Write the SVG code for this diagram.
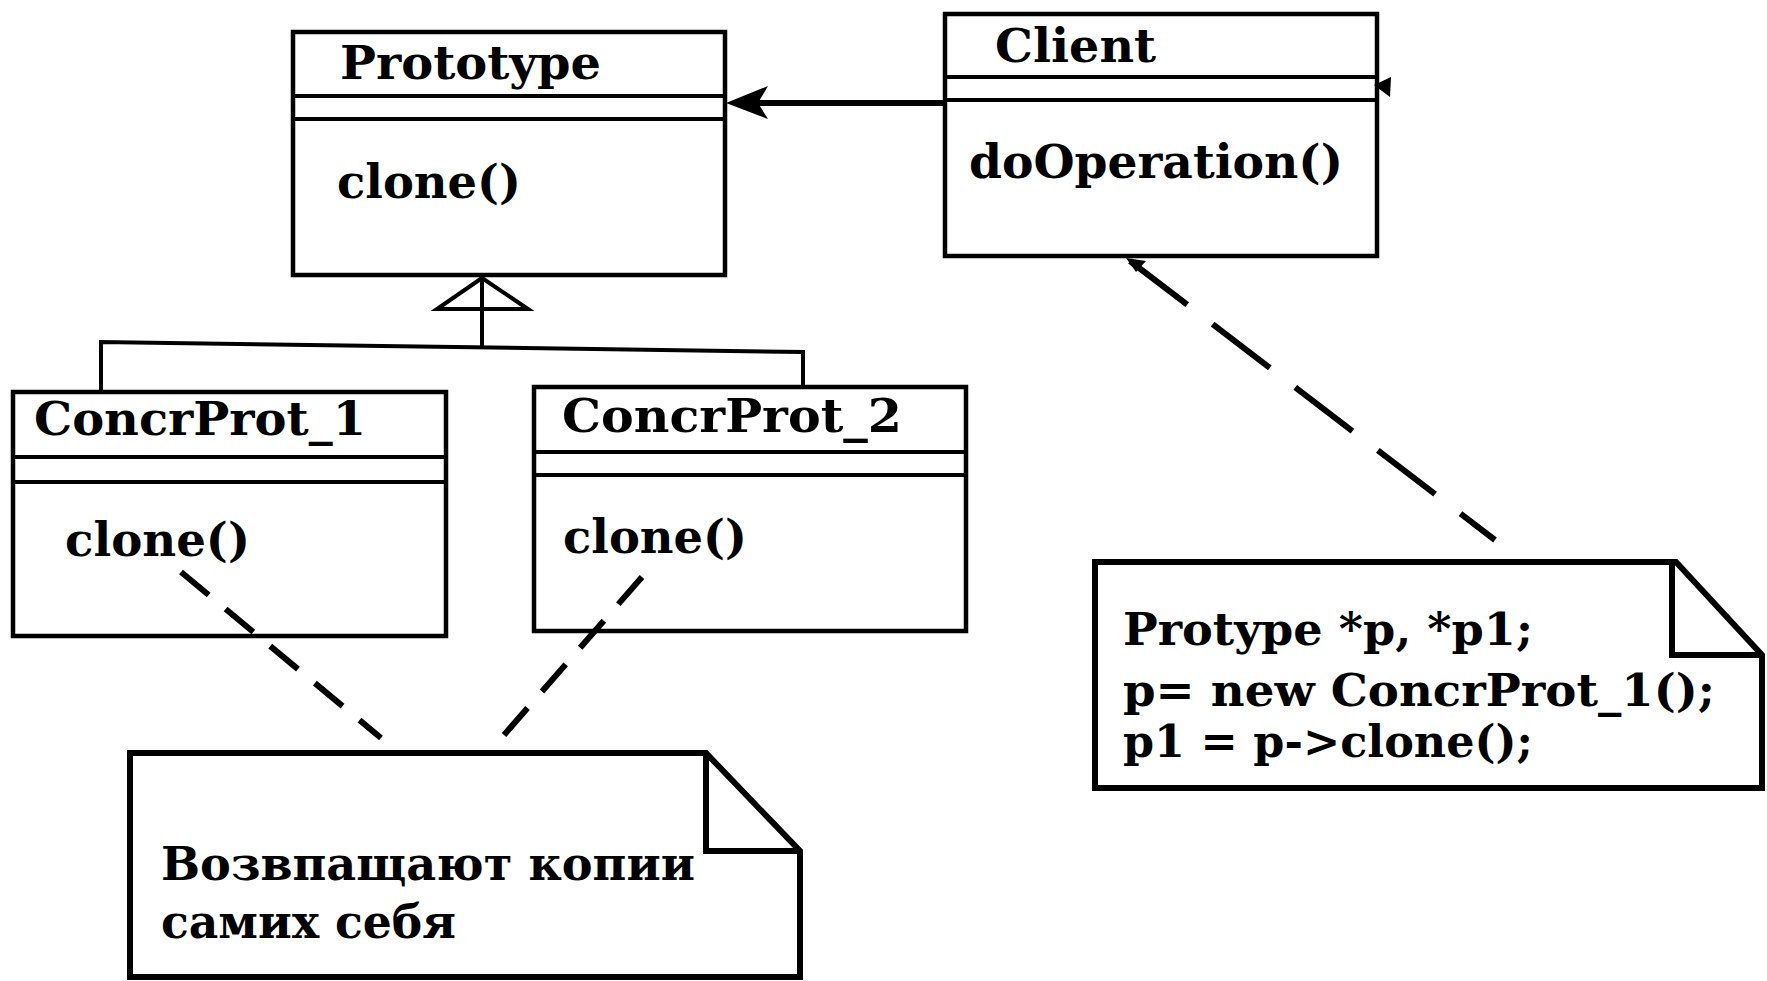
<svg xmlns="http://www.w3.org/2000/svg" width="1767" height="981" viewBox="0 0 1767 981">
<style>
.box{fill:#fff;stroke:#000;stroke-width:4.5}
.sep{stroke:#000;stroke-width:4}
.note{fill:#fff;stroke:#000;stroke-width:6;stroke-linejoin:miter}
.fold{fill:none;stroke:#000;stroke-width:6}
.t{font-family:"DejaVu Serif","Liberation Serif",serif;font-weight:bold;fill:#000}
.cls{font-size:47px}
.nt{font-size:45px}
.dash{fill:none;stroke:#000;stroke-width:6}
.line{fill:none;stroke:#000;stroke-width:4}
</style>
<rect width="1767" height="981" fill="#fff"/>
<g id="prototype">
  <rect class="box" x="293" y="32" width="432" height="243"/>
  <line class="sep" x1="293" y1="96" x2="725" y2="96"/>
  <line class="sep" x1="293" y1="119" x2="725" y2="119"/>
  <text class="t cls" x="340" y="79" textLength="261" lengthAdjust="spacingAndGlyphs">Prototype</text>
  <text class="t cls" x="337" y="198" textLength="184" lengthAdjust="spacingAndGlyphs">clone()</text>
</g>
<g id="client">
  <rect class="box" x="945" y="14" width="432" height="242"/>
  <line class="sep" x1="945" y1="77" x2="1377" y2="77"/>
  <line class="sep" x1="945" y1="100" x2="1377" y2="100"/>
  <polygon points="1374,85 1391,77 1390,97" fill="#000"/>
  <text class="t cls" x="995" y="62" textLength="161" lengthAdjust="spacingAndGlyphs">Client</text>
  <text class="t cls" x="969" y="178" textLength="374" lengthAdjust="spacingAndGlyphs">doOperation()</text>
</g>
<g id="concrprot1">
  <rect class="box" x="13" y="392" width="433" height="244"/>
  <line class="sep" x1="13" y1="457" x2="446" y2="457"/>
  <line class="sep" x1="13" y1="482" x2="446" y2="482"/>
  <text class="t cls" x="34" y="435" textLength="332" lengthAdjust="spacingAndGlyphs">ConcrProt_1</text>
  <text class="t cls" x="65" y="556" textLength="185" lengthAdjust="spacingAndGlyphs">clone()</text>
</g>
<g id="concrprot2">
  <rect class="box" x="534" y="387" width="432" height="244"/>
  <line class="sep" x1="534" y1="452" x2="966" y2="452"/>
  <line class="sep" x1="534" y1="475" x2="966" y2="475"/>
  <text class="t cls" x="562" y="432" textLength="340" lengthAdjust="spacingAndGlyphs">ConcrProt_2</text>
  <text class="t cls" x="563" y="553" textLength="184" lengthAdjust="spacingAndGlyphs">clone()</text>
</g>
<g id="note-copies">
  <path class="note" d="M130,753 H706 L800,851 V977 H130 Z"/>
  <path class="fold" d="M706,753 V851 H800"/>
  <text class="t" font-size="46" x="161" y="880" textLength="534" lengthAdjust="spacingAndGlyphs">Возвпащают копии</text>
  <text class="t" font-size="46" x="161" y="938" textLength="295" lengthAdjust="spacingAndGlyphs">самих себя</text>
</g>
<g id="note-code">
  <path class="note" d="M1095,562 H1676 L1762,655 V788 H1095 Z"/>
  <path class="fold" d="M1672,562 V655 H1762"/>
  <text class="t nt" x="1123" y="645" textLength="410" lengthAdjust="spacingAndGlyphs">Protype *p, *p1;</text>
  <text class="t nt" x="1123" y="706" textLength="592" lengthAdjust="spacingAndGlyphs">p= new ConcrProt_1();</text>
  <text class="t nt" x="1123" y="757" textLength="410" lengthAdjust="spacingAndGlyphs">p1 = p-&gt;clone();</text>
</g>
<g id="connectors">
  <line x1="944" y1="103" x2="745" y2="103" stroke="#000" stroke-width="6"/>
  <polygon points="726,103 768,86 758,103 768,119" fill="#000"/>
  <polyline class="line" points="101,392 101,342 803,352 803,387"/>
  <line class="line" x1="482" y1="279" x2="482" y2="348"/>
  <polygon points="482,278 437,309 528,309" fill="#fff" stroke="#000" stroke-width="4" stroke-linejoin="miter"/>
  <line class="line" x1="482" y1="279" x2="482" y2="309"/>
  <line class="dash" x1="1130" y1="261" x2="1495" y2="540" stroke-dasharray="72 32"/>
  <polygon points="1126,258 1146,261 1136,272" fill="#000"/>
  <line class="dash" x1="181" y1="572" x2="381" y2="738" stroke-dasharray="36 22" stroke-width="5"/>
  <line class="dash" x1="642" y1="577" x2="504" y2="735" stroke-dasharray="36 22" stroke-width="5"/>
</g>
</svg>
